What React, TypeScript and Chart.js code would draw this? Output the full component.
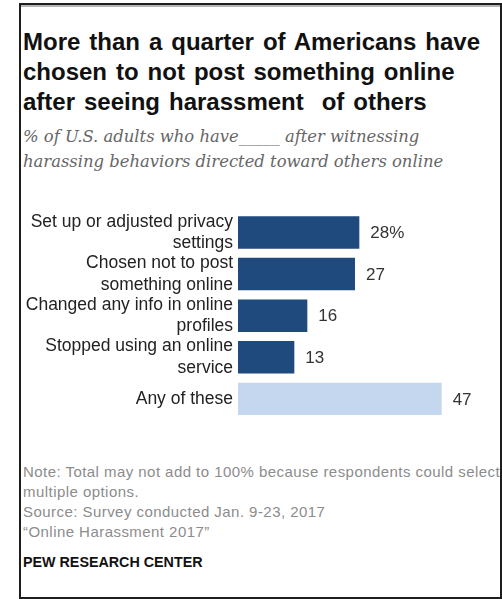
import React, { useEffect, useRef } from "react";
import { Chart, registerables } from "chart.js";

Chart.register(...registerables);

const titleLines = [
  "More than a quarter of Americans have",
  "chosen to not post something online",
  "after seeing harassment  of others",
];
const subtitleLines = [
  "% of U.S. adults who have_____ after witnessing",
  "harassing behaviors directed toward others online",
];
const categories: string[][] = [
  ["Set up or adjusted privacy", "settings"],
  ["Chosen not to post", "something online"],
  ["Changed any info in online", "profiles"],
  ["Stopped using an online", "service"],
  ["Any of these"],
];
const values = [28, 27, 16, 13, 47];
const valueLabels = ["28%", "27", "16", "13", "47"];
const barColors = ["#1f4a7e", "#1f4a7e", "#1f4a7e", "#1f4a7e", "#c5d7ee"];
const noteLines = [
  "Note: Total may not add to 100% because respondents could select",
  "multiple options.",
  "Source: Survey conducted Jan. 9-23, 2017",
  "\u201cOnline Harassment 2017\u201d",
];
const brand = "PEW RESEARCH CENTER";

const valueLabelPlugin = {
  id: "valueLabels",
  afterDatasetsDraw(chart: any) {
    const ctx = chart.ctx;
    const meta = chart.getDatasetMeta(0);
    ctx.save();
    ctx.font = "17px 'Liberation Sans', Arial, sans-serif";
    ctx.fillStyle = "#333333";
    ctx.textAlign = "left";
    ctx.textBaseline = "middle";
    meta.data.forEach((bar: any, i: number) => {
      ctx.fillText(valueLabels[i], bar.x + 11, bar.y + 1);
    });
    ctx.restore();
  },
};

export default function App() {
  const canvasRef = useRef<HTMLCanvasElement | null>(null);

  useEffect(() => {
    if (!canvasRef.current) return;
    const chart = new Chart(canvasRef.current, {
      type: "bar",
      data: {
        labels: categories,
        datasets: [
          {
            data: values,
            backgroundColor: barColors,
            borderWidth: 0,
            barPercentage: 0.78,
            categoryPercentage: 1,
          },
        ],
      },
      options: {
        indexAxis: "y",
        responsive: false,
        animation: false,
        layout: { padding: { top: 10, bottom: 6, left: 0, right: 0 } },
        plugins: {
          legend: { display: false },
          tooltip: { enabled: false },
          title: { display: false },
        },
        scales: {
          x: {
            display: false,
            min: 0,
            max: 60,
          },
          y: {
            grid: { display: false, drawTicks: false },
            border: { display: false },
            ticks: {
              padding: 5,
              color: "#222222",
              font: {
                family: "'Liberation Sans', Arial, sans-serif",
                size: 17.5,
                lineHeight: 1.22,
              },
            },
            afterFit(scale: any) {
              scale.width = 218;
            },
          },
        },
      },
      plugins: [valueLabelPlugin],
    });
    return () => chart.destroy();
  }, []);

  const sans = "'Liberation Sans', Arial, sans-serif";

  return (
    <div
      style={{
        position: "absolute",
        left: 0,
        top: 0,
        width: 502,
        height: 599,
        background: "#ffffff",
        overflow: "hidden",
      }}
    >
      <div
        style={{
          position: "absolute",
          left: 23,
          top: 27,
          fontFamily: sans,
          fontWeight: "bold",
          fontSize: 24,
          wordSpacing: 2.3,
          lineHeight: "30px",
          color: "#111111",
          whiteSpace: "pre",
        }}
      >
        {titleLines.map((l, i) => (
          <div key={i}>{l}</div>
        ))}
      </div>
      <div
        style={{
          position: "absolute",
          left: 23,
          top: 124,
          fontFamily: "'DejaVu Serif', serif",
          fontStyle: "italic",
          fontSize: 16.4,
          lineHeight: "25px",
          color: "#666666",
          whiteSpace: "pre",
        }}
      >
        {subtitleLines.map((l, i) => (
          <div key={i}>{l}</div>
        ))}
      </div>
      <canvas
        ref={canvasRef}
        width={478}
        height={250}
        style={{ position: "absolute", left: 20, top: 196, width: 478, height: 250 }}
      />
      <div
        style={{
          position: "absolute",
          left: 23,
          top: 462,
          fontFamily: sans,
          fontSize: 15,
          letterSpacing: 0.45,
          lineHeight: "20px",
          color: "#8c8c8c",
          whiteSpace: "pre",
        }}
      >
        {noteLines.map((l, i) => (
          <div key={i}>{l}</div>
        ))}
      </div>
      <div
        style={{
          position: "absolute",
          left: 23,
          top: 553,
          fontFamily: sans,
          fontWeight: "bold",
          fontSize: 14.3,
          lineHeight: "18px",
          color: "#111111",
          whiteSpace: "pre",
        }}
      >
        {brand}
      </div>
      <div
        style={{
          position: "absolute",
          left: 19,
          top: 3,
          width: 483,
          height: 596,
          boxSizing: "border-box",
          border: "2px solid #1e1e1e",
          boxShadow: "inset 0 2px 0 #b5b5b5",
          pointerEvents: "none",
        }}
      />
    </div>
  );
}
